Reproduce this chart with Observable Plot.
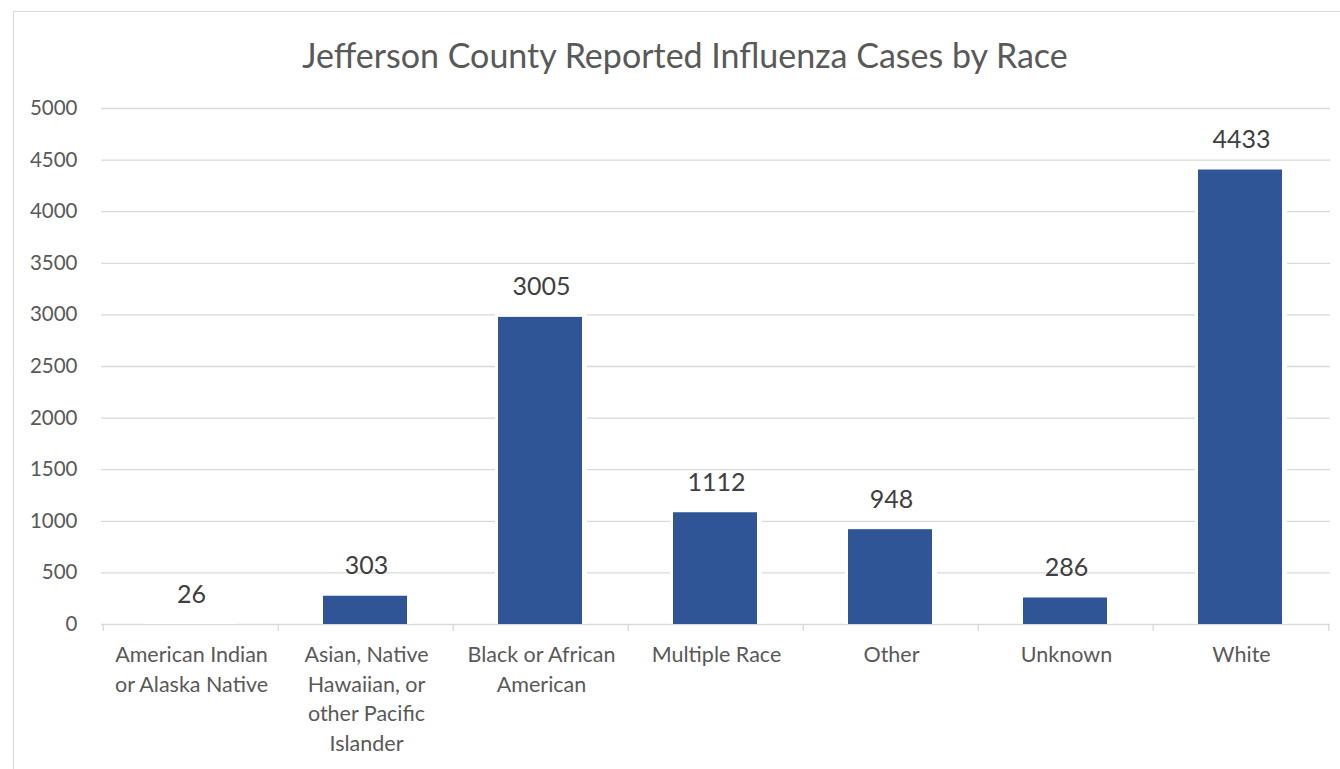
<!DOCTYPE html>
<html>
<head>
<meta charset="utf-8">
<script src="https://cdn.jsdelivr.net/npm/d3@7"></script>
<script src="https://cdn.jsdelivr.net/npm/@observablehq/plot@0.6"></script>
<style>
  html, body { margin: 0; padding: 0; background: #fff; }
  body { width: 1340px; height: 769px; position: relative; overflow: hidden; font-family: Lato, "Open Sans", sans-serif; }
  #frame { position: absolute; left: 13px; top: 11px; width: 1340px; height: 800px; border: 1px solid #d9d9d9; box-sizing: border-box; }
  #title { position: absolute; left: 0; width: 1370px; top: 35px; text-align: center; font-size: 34px; color: #595959; font-family: Lato, sans-serif; line-height: 40px; }
  #chart { position: absolute; left: 0; top: 0; }
</style>
</head>
<body>
<div id="frame"></div>
<div id="title">Jefferson County Reported Influenza Cases by Race</div>
<div id="chart"></div>
<script>
const categories = [
  "American Indian or Alaska Native",
  "Asian, Native Hawaiian, or other Pacific Islander",
  "Black or African American",
  "Multiple Race",
  "Other",
  "Unknown",
  "White"
];
const categoryLabels = [
  "American Indian\nor Alaska Native",
  "Asian, Native\nHawaiian, or\nother Pacific\nIslander",
  "Black or African\nAmerican",
  "Multiple Race",
  "Other",
  "Unknown",
  "White"
];
const cases = [26, 303, 3005, 1112, 948, 286, 4433];
const yTicks = [0, 500, 1000, 1500, 2000, 2500, 3000, 3500, 4000, 4500, 5000];

const data = categories.map((c, i) => ({category: c, label: categoryLabels[i], value: cases[i]}));

const W = 1340, H = 769;
const mL = 101, mR = 10, mT = 108, mB = 145;

// category boundary tick marks drawn from the band scale
function boundaryTicks(index, scales, values, dimensions) {
  const x = scales.x, y = scales.y;
  const bw = x.bandwidth ? x.bandwidth() : 0;
  const n = categories.length;
  const step = (dimensions.width - dimensions.marginLeft - dimensions.marginRight) / n;
  const y0 = y(0);
  const g = d3.create("svg:g");
  for (let i = 0; i <= n; i++) {
    let xv;
    if (i < n) xv = x(categories[i]) + bw / 2 - step / 2;
    else xv = x(categories[n - 1]) + bw / 2 + step / 2;
    g.append("line")
      .attr("x1", xv).attr("x2", xv)
      .attr("y1", y0).attr("y2", y0 + 7)
      .attr("stroke", "#d9d9d9").attr("stroke-width", 1.3);
  }
  return g.node();
}

const plot = Plot.plot({
  width: W,
  height: H,
  marginLeft: mL,
  marginRight: mR,
  marginTop: mT,
  marginBottom: mB,
  style: {fontFamily: "Lato, sans-serif", background: "transparent", overflow: "visible"},
  x: {domain: categories, paddingInner: 0.52, paddingOuter: 0.26, axis: null},
  y: {domain: [0, 5000], axis: null},
  marks: [
    Plot.ruleY(yTicks, {y: d => d, stroke: "#d9d9d9", strokeWidth: 1.3}),
    Plot.text(yTicks, {y: d => d, text: d => String(d), frameAnchor: "left", textAnchor: "end", dx: -24, fontSize: 20.5, fill: "#595959"}),
    Plot.barY(data, {x: "category", y: "value", fill: "white", insetLeft: -4, insetRight: -4}),
    Plot.barY(data, {x: "category", y: "value", fill: "#2F5597", insetTop: 3, insetLeft: -1, insetRight: 1}),
    boundaryTicks,
    Plot.text(data, {x: "category", y: "value", text: d => String(d.value), dy: -27, fontSize: 25, fill: "#404040"}),
    Plot.text(data, {x: "category", y: 0, text: "label", lineAnchor: "top", dy: 17, fontSize: 21.5, lineHeight: 1.37, fill: "#595959"})
  ]
});
document.getElementById("chart").appendChild(plot);
</script>
</body>
</html>
